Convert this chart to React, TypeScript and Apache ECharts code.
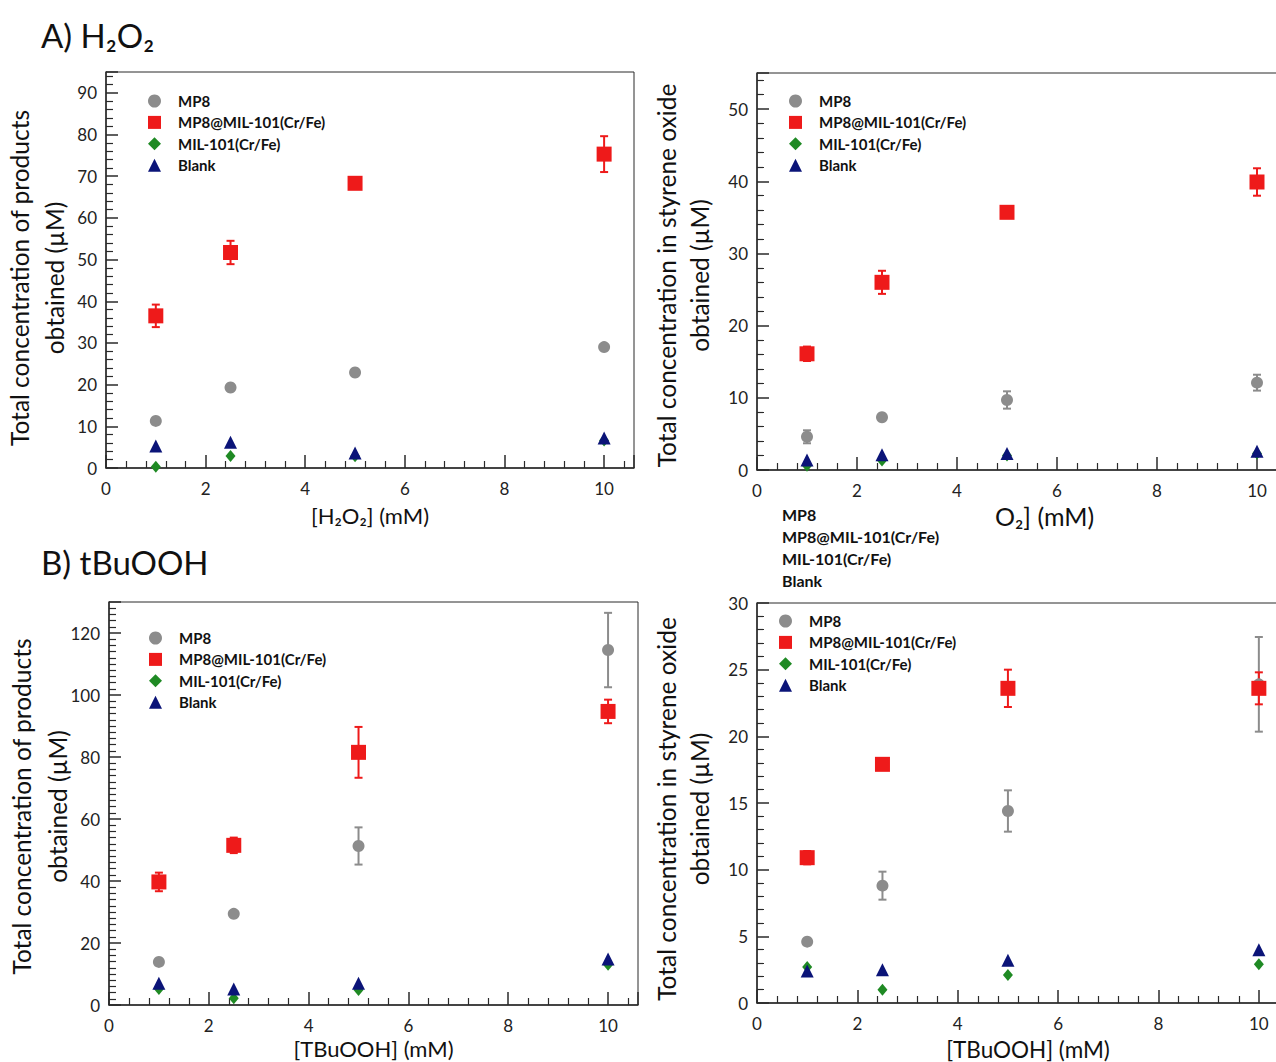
import React, { useEffect, useRef } from "react";
import * as echarts from "echarts";

// ---------- data ----------
const conc = [1, 2.5, 5, 10];
const seriesNames = ["MP8", "MP8@MIL-101(Cr/Fe)", "MIL-101(Cr/Fe)", "Blank"];

// A) H2O2 – total products
const aProdMP8 = [11.3, 19.3, 22.9, 29.0];
const aProdMP8Err = [0.6, 0.6, 0.6, 0.6];
const aProdMIL = [36.5, 51.7, 68.3, 75.3];
const aProdMILErr = [2.7, 2.8, 0.9, 4.3];
const aProdBare = [0.3, 2.9, 2.8, 6.6];
const aProdBlank = [5.3, 6.2, 3.6, 7.2];

// A) H2O2 – styrene oxide
const aSoMP8 = [4.6, 7.3, 9.7, 12.1];
const aSoMP8Err = [0.9, 0.3, 1.2, 1.1];
const aSoMIL = [16.1, 26.0, 35.7, 39.9];
const aSoMILErr = [1.0, 1.6, 0.5, 1.9];
const aSoBare = [0.6, 1.3, 2.0, 2.3];
const aSoBlank = [1.4, 2.1, 2.3, 2.6];

// B) tBuOOH – total products
const bProdMP8 = [13.9, 29.4, 51.3, 114.5];
const bProdMP8Err = [0.8, 0.8, 6.0, 12.0];
const bProdMIL = [39.7, 51.5, 81.5, 94.7];
const bProdMILErr = [3.0, 2.5, 8.2, 3.8];
const bProdBare = [5.2, 2.2, 4.8, 13.0];
const bProdBlank = [7.0, 5.2, 7.0, 14.8];

// B) tBuOOH – styrene oxide
const bSoMP8 = [4.6, 8.8, 14.4, 23.9];
const bSoMP8Err = [0.2, 1.05, 1.55, 3.55];
const bSoMIL = [10.9, 17.9, 23.6, 23.6];
const bSoMILErr = [0.5, 0.3, 1.4, 1.2];
const bSoBare = [2.7, 1.0, 2.1, 2.9];
const bSoBlank = [2.4, 2.5, 3.2, 4.0];

// ---------- styling ----------
const FONT = "Lato, 'Open Sans', sans-serif";
const C_MP8 = "#8c8c8c";
const C_MIL = "#ee1a1a";
const C_BARE = "#1f8a24";
const C_BLANK = "#0b1478";
const AXIS = "#2a2a2a";

const pts = (ys: number[]) => conc.map((x, i) => [x, ys[i]]);
const errPts = (ys: number[], es: number[]) => conc.map((x, i) => [x, ys[i] - es[i], ys[i] + es[i]]);

function errorSeries(idx: number, ys: number[], es: number[], color: string) {
  return {
    type: "custom",
    name: "err",
    xAxisIndex: idx,
    yAxisIndex: idx,
    z: 1,
    silent: true,
    encode: { x: 0, y: [1, 2] },
    data: errPts(ys, es),
    renderItem: (params: any, api: any) => {
      const x = api.value(0);
      const top = api.coord([x, api.value(2)]);
      const bot = api.coord([x, api.value(1)]);
      const w = 4;
      const st = { stroke: color, lineWidth: 2 };
      return {
        type: "group",
        children: [
          { type: "line", shape: { x1: top[0], y1: top[1], x2: bot[0], y2: bot[1] }, style: st },
          { type: "line", shape: { x1: top[0] - w, y1: top[1], x2: top[0] + w, y2: top[1] }, style: st },
          { type: "line", shape: { x1: bot[0] - w, y1: bot[1], x2: bot[0] + w, y2: bot[1] }, style: st },
        ],
      };
    },
  };
}

function scatterSeries(idx: number, ys: number[], kind: number) {
  const symbol = ["circle", "rect", "diamond", "triangle"][kind];
  const size = [12, 15, [10, 12], 13][kind];
  const color = [C_MP8, C_MIL, C_BARE, C_BLANK][kind];
  return {
    type: "scatter",
    name: seriesNames[kind],
    xAxisIndex: idx,
    yAxisIndex: idx,
    symbol,
    symbolSize: size,
    itemStyle: { color, opacity: 1 },
    z: [3, 4, 5, 6][kind],
    data: pts(ys),
  };
}

const panels = [
  { grid: { left: 106, top: 72, width: 528, height: 396 }, xMax: 10.6, yMax: 95, yInt: 10, ySplit: 5,
    yName: "Total concentration of products\nobtained (µM)", yGap: 34, yLH: 35, yShift: 16,
    xName: "[H₂O₂] (mM)", xGap: 36, xFont: 22,
    legend: { left: 148, top: 93 },
    data: [aProdMP8, aProdMIL, aProdBare, aProdBlank], errs: [aProdMP8Err, aProdMILErr] },
  { grid: { left: 757, top: 73, width: 540, height: 397 }, xMax: 10.8, yMax: 55, yInt: 10, ySplit: 5,
    yName: "Total concentration in styrene oxide\nobtained (µM)", yGap: 41, yLH: 33, yShift: 8,
    xName: "[H₂O₂] (mM)", xGap: 33, xFont: 25,
    legend: { left: 789, top: 93 },
    data: [aSoMP8, aSoMIL, aSoBare, aSoBlank], errs: [aSoMP8Err, aSoMILErr] },
  { grid: { left: 109, top: 602, width: 529, height: 403 }, xMax: 10.6, yMax: 130, yInt: 20, ySplit: 10,
    yName: "Total concentration of products\nobtained (µM)", yGap: 34, yLH: 36, yShift: 6,
    xName: "[TBuOOH] (mM)", xGap: 32, xFont: 22,
    legend: { left: 149, top: 630 },
    data: [bProdMP8, bProdMIL, bProdBare, bProdBlank], errs: [bProdMP8Err, bProdMILErr] },
  { grid: { left: 757, top: 603, width: 542, height: 400 }, xMax: 10.8, yMax: 30, yInt: 5, ySplit: 5,
    yName: "Total concentration in styrene oxide\nobtained (µM)", yGap: 41, yLH: 33, yShift: 12,
    xName: "[TBuOOH] (mM)", xGap: 35, xFont: 22.5,
    legend: { left: 779, top: 613 },
    data: [bSoMP8, bSoMIL, bSoBare, bSoBlank], errs: [bSoMP8Err, bSoMILErr] },
];

function buildOption() {
  const grid = panels.map((p) => ({
    ...p.grid,
    show: true,
    borderColor: AXIS,
    borderWidth: 1,
    backgroundColor: "transparent",
    containLabel: false,
    outerBoundsMode: "none",
  }));
  const xAxis = panels.map((p, i) => ({
    type: "value",
    gridIndex: i,
    min: 0,
    max: p.xMax,
    interval: 2,
    name: p.xName,
    nameLocation: "middle",
    nameGap: p.xGap,
    nameMoveOverlap: false,
    nameTextStyle: { fontFamily: FONT, fontSize: p.xFont, color: "#111" },
    axisLine: { show: true, lineStyle: { color: AXIS, width: 1.5 } },
    axisTick: { show: true, inside: true, length: 13, lineStyle: { color: AXIS, width: 1.5 } },
    minorTick: { show: true, splitNumber: 5, length: 7, lineStyle: { color: AXIS, width: 1.2 } },
    splitLine: { show: false },
    minorSplitLine: { show: false },
    axisLabel: { showMaxLabel: false, margin: 12, fontFamily: FONT, fontSize: 17, color: "#222" },
  }));
  const yAxis = panels.map((p, i) => ({
    type: "value",
    gridIndex: i,
    min: 0,
    max: p.yMax,
    interval: p.yInt,
    name: p.yName,
    nameLocation: "middle",
    nameRotate: 90,
    nameGap: p.yGap,
    nameMoveOverlap: false,
    nameTextStyle: {
      fontFamily: FONT, fontSize: 24.5, lineHeight: p.yLH, color: "#111", align: "center",
      padding: [0, p.yShift, 0, 0],
    },
    axisLine: { show: true, lineStyle: { color: AXIS, width: 1.5 } },
    axisTick: { show: true, inside: true, length: 12, lineStyle: { color: AXIS, width: 1.5 } },
    minorTick: { show: true, splitNumber: p.ySplit, length: 7, lineStyle: { color: AXIS, width: 1.2 } },
    splitLine: { show: false },
    minorSplitLine: { show: false },
    axisLabel: { showMaxLabel: i === 3, margin: 9, fontFamily: FONT, fontSize: 17, color: "#222" },
  }));
  const series: any[] = [];
  panels.forEach((p, i) => {
    series.push(errorSeries(i, p.data[0], p.errs[0], C_MP8));
    series.push(errorSeries(i, p.data[1], p.errs[1], C_MIL));
    for (let k = 0; k < 4; k++) series.push(scatterSeries(i, p.data[k], k));
  });
  const legend = panels.map((p) => ({
    data: seriesNames,
    orient: "vertical",
    left: p.legend.left,
    top: p.legend.top,
    padding: 0,
    itemWidth: 13,
    itemHeight: 13,
    itemGap: 5.4,
    selectedMode: false,
    symbolKeepAspect: true,
    textStyle: { fontFamily: FONT, fontSize: 15, fontWeight: "bold", color: "#111", lineHeight: 16, padding: [0, 0, 0, 12] },
  }));
  const strayY = [514, 536, 558, 580];
  const graphic = [
    { type: "rect", z: 50, shape: { x: 772, y: 500, width: 223, height: 93 }, style: { fill: "#fff" } },
    ...seriesNames.map((n, k) => ({
      type: "text",
      z: 51,
      x: 782,
      y: strayY[k],
      style: { text: n, fontFamily: FONT, fontSize: 16, fontWeight: "bold", fill: "#111", verticalAlign: "middle" },
    })),
  ];
  return {
    animation: false,
    backgroundColor: "#fff",
    title: [
      { text: "A) H₂O₂", left: 36, top: 13, textStyle: { fontFamily: FONT, fontSize: 33, fontWeight: "normal", color: "#111" } },
      { text: "B) tBuOOH", left: 36, top: 540, textStyle: { fontFamily: FONT, fontSize: 33, fontWeight: "normal", color: "#111" } },
    ],
    grid,
    xAxis,
    yAxis,
    legend,
    series,
    graphic,
  };
}

export default function App() {
  const ref = useRef<HTMLDivElement>(null);
  useEffect(() => {
    if (!ref.current) return;
    const chart = echarts.init(ref.current, undefined, { renderer: "svg" });
    chart.setOption(buildOption() as any);
    return () => chart.dispose();
  }, []);
  return (
    <div
      ref={ref}
      style={{ position: "absolute", left: 0, top: 0, width: 1276, height: 1062, background: "#fff" }}
    />
  );
}
